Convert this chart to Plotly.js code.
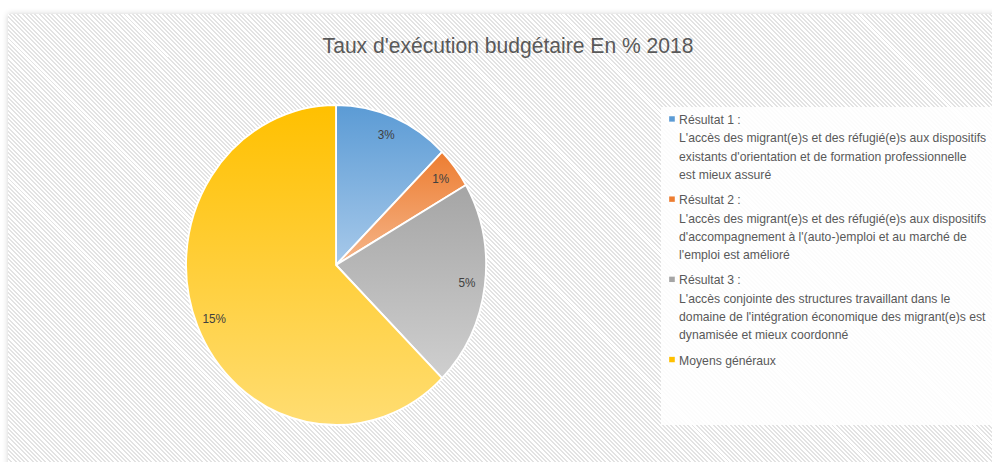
<!DOCTYPE html>
<html>
<head>
<meta charset="utf-8">
<script src="https://cdn.plot.ly/plotly-3.0.1.min.js"></script>
<style>
  html, body { margin:0; padding:0; background:#ffffff; width:992px; height:462px; overflow:hidden; }
  #bg { position:absolute; left:8px; top:14px; width:990px; height:460px;
        background: repeating-linear-gradient(45deg, #ffffff 0px, #ffffff 1.6px, #e3e3e3 1.6px, #e3e3e3 3px);
        box-shadow: 0 0 6px rgba(0,0,0,0.18); }
  #lgbox { position:absolute; left:661px; top:107px; width:340px; height:318px; background:rgba(255,255,255,0.88); }
  #chart { position:absolute; left:0; top:0; width:1058px; height:462px; transform: scaleX(0.9376); transform-origin: 0 0; }
</style>
</head>
<body>
<div id="bg"></div>
<div id="lgbox"></div>
<div id="chart"></div>
<script>
const chartTitle = "Taux d'exécution budgétaire En % 2018";
const categories = [
  "Résultat 1 :<br>L'accès des migrant(e)s et des réfugié(e)s aux dispositifs<br>existants d'orientation et de formation professionnelle<br>est mieux assuré",
  "Résultat 2 :<br>L'accès des migrant(e)s et des réfugié(e)s aux dispositifs<br>d'accompagnement à l'(auto-)emploi et au marché de<br>l'emploi est amélioré",
  "Résultat 3 :<br>L'accès conjointe des structures travaillant dans le<br>domaine de l'intégration économique des migrant(e)s est<br>dynamisée et mieux coordonné",
  "Moyens généraux"
];
const values = [3, 1, 5, 15];
const valueLabels = ["3%", "1%", "5%", "15%"];
const colors = ["#5B9BD5", "#ED7D31", "#A5A5A5", "#FFC000"];
const colorsLight = ["#A7C9EA", "#F5B68B", "#CFCFCF", "#FFDD72"];

const W = 1058, H = 462;
// pie geometry (pixels, before horizontal squeeze)
const CX = 358.4, CY = 265, R = 160, LABEL_R = 0.88;
const LEG_LINE = 18.3, LEG_GAP = 7;

const trace = {
  type: 'pie',
  labels: categories,
  values: values,
  sort: false,
  direction: 'clockwise',
  rotation: 0,
  marker: { colors: colors, line: { color: '#ffffff', width: 2 } },
  textinfo: 'none',
  hoverinfo: 'label+value',
  domain: { x: [(CX - R) / W, (CX + R) / W], y: [(H - CY - R) / H, (H - CY + R) / H] }
};

// slice value labels placed along each slice's mid-angle, near the rim
const total = values.reduce((a, b) => a + b, 0);
let cum = 0;
const annotations = values.map(function (v, i) {
  const mid = (cum + v / 2) / total * 2 * Math.PI;
  cum += v;
  return {
    xref: 'paper', yref: 'paper',
    x: (CX + LABEL_R * R * Math.sin(mid)) / W,
    y: (H - CY + LABEL_R * R * Math.cos(mid)) / H,
    text: valueLabels[i], showarrow: false,
    xanchor: 'center', yanchor: 'middle',
    font: { family: 'Liberation Sans, Arial, sans-serif', size: 12.5, color: '#404040' }
  };
});

const layout = {
  width: W, height: H,
  margin: { l: 0, r: 0, t: 0, b: 0, autoexpand: false },
  paper_bgcolor: 'rgba(0,0,0,0)',
  plot_bgcolor: 'rgba(0,0,0,0)',
  title: {
    text: chartTitle,
    x: 541.9 / W, xanchor: 'center',
    y: 1 - 45 / H, yanchor: 'middle',
    font: { family: 'Liberation Sans, Arial, sans-serif', size: 22.5, color: '#595959' }
  },
  annotations: annotations,
  showlegend: true,
  legend: {
    x: 684.3 / W, xanchor: 'left',
    y: 1 - 104 / H, yanchor: 'top',
    bgcolor: 'rgba(0,0,0,0)',
    valign: 'top',
    itemwidth: 30,
    font: { family: 'Liberation Sans, Arial, sans-serif', size: 13, color: '#595959' }
  }
};

Plotly.newPlot('chart', [trace], layout, { displayModeBar: false, staticPlot: true }).then(function (gd) {
  const svgNS = 'http://www.w3.org/2000/svg';
  const svg = gd.querySelector('svg.main-svg');
  let defs = svg.querySelector('defs');
  if (!defs) { defs = document.createElementNS(svgNS, 'defs'); svg.insertBefore(defs, svg.firstChild); }
  colors.forEach(function (c, i) {
    const g = document.createElementNS(svgNS, 'linearGradient');
    g.setAttribute('id', 'sliceGrad' + i);
    g.setAttribute('x1', '0'); g.setAttribute('y1', '0');
    g.setAttribute('x2', '0'); g.setAttribute('y2', '1');
    const s1 = document.createElementNS(svgNS, 'stop');
    s1.setAttribute('offset', '0'); s1.setAttribute('stop-color', c);
    const s2 = document.createElementNS(svgNS, 'stop');
    s2.setAttribute('offset', '1'); s2.setAttribute('stop-color', colorsLight[i]);
    g.appendChild(s1); g.appendChild(s2);
    defs.appendChild(g);
  });
  gd.querySelectorAll('g.slice').forEach(function (sl, i) {
    const p = sl.querySelector('path.surface');
    if (p) p.style.fill = 'url(#sliceGrad' + i + ')';
  });
  // smaller legend swatches, as in the reference
  gd.querySelectorAll('.legendpoints path').forEach(function (p) {
    p.setAttribute('d', 'M3,2.7H-3V-2.7H3Z');
    p.style.strokeWidth = '0px';
    const t = p.getAttribute('transform') || '';
    p.setAttribute('transform', t + ' translate(12.4,0)');
  });
  // looser legend line spacing, as in the reference
  gd.querySelectorAll('.legend [clip-path]').forEach(function (el) { el.removeAttribute('clip-path'); });
  gd.querySelectorAll('.legend').forEach(function (el) { el.removeAttribute('clip-path'); });
  const items = Array.from(gd.querySelectorAll('.legend .traces'));
  let top0 = null, acc = 0;
  items.forEach(function (it) {
    const m = /translate\(\s*([-\d.e]+)[ ,]+([-\d.e]+)\s*\)/.exec(it.getAttribute('transform') || '');
    if (!m) return;
    const x = parseFloat(m[1]), y = parseFloat(m[2]);
    const txt = it.querySelector('text.legendtext');
    const lines = it.querySelectorAll('text.legendtext tspan.line');
    lines.forEach(function (ln, k) { if (k > 0) ln.setAttribute('dy', (k * LEG_LINE) + 'px'); });
    const firstEl = lines.length ? lines[0] : txt;
    const curTop = firstEl.getBoundingClientRect().top;
    if (top0 === null) top0 = curTop;
    const shift = (top0 + acc) - curTop;
    it.setAttribute('transform', 'translate(' + x + ',' + (y + shift) + ')');
    acc += Math.max(1, lines.length) * LEG_LINE + LEG_GAP;
  });
});
</script>
</body>
</html>
